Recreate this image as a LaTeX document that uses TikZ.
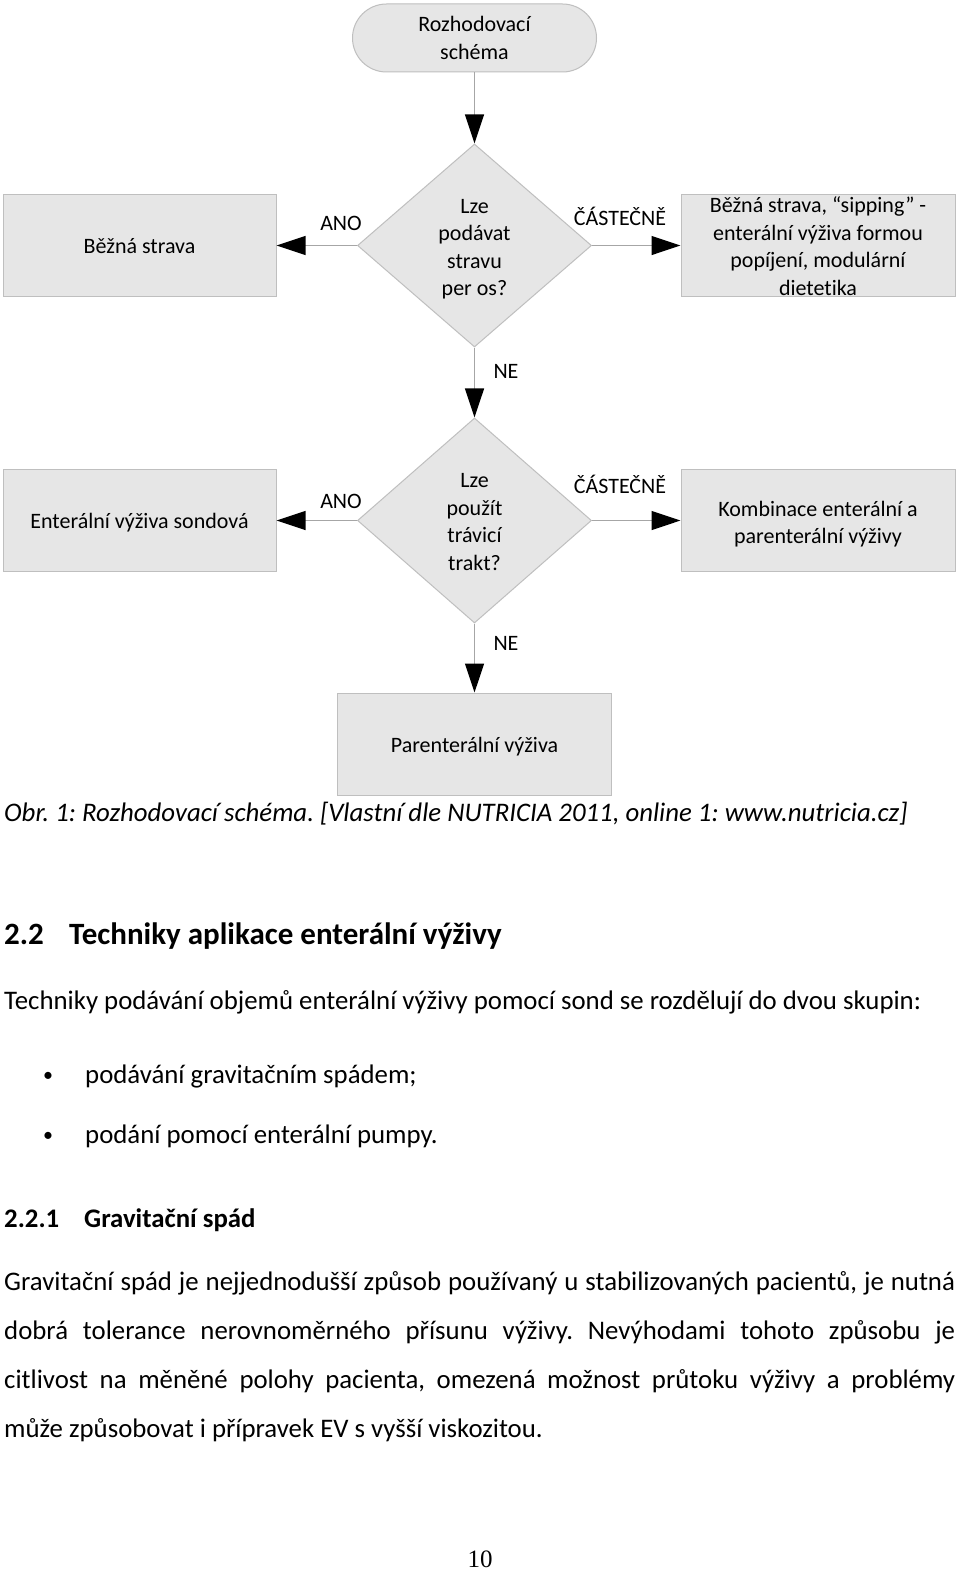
\documentclass[tikz,border=0pt]{standalone}
\usepackage{fontspec}
\setmainfont{Carlito}[Ligatures={NoCommon}]
\newfontfamily\pnfont{Liberation Serif}
\usetikzlibrary{shapes.geometric,arrows.meta}
\definecolor{boxfill}{HTML}{E6E6E6}
\definecolor{boxline}{HTML}{BFBFBF}
\definecolor{connline}{HTML}{A6A6A6}
\begin{document}
\frenchspacing
\begin{tikzpicture}[x=1pt,y=-1pt,
  dfont/.style={font=\fontsize{22}{27.5}\selectfont},
  box/.style={draw=boxline, fill=boxfill, line width=1pt, minimum width=273pt, minimum height=102pt, inner sep=0pt},
  term/.style={box, dfont, align=center, rounded corners=34pt, minimum width=244pt, minimum height=68pt},
  dec/.style={diamond, draw=boxline, fill=boxfill, line width=1pt, minimum width=234pt, minimum height=203pt, inner sep=0pt},
  dtext/.style={dfont, align=center, inner sep=0pt, yshift=-3.5pt},
  lbl/.style={dfont, inner sep=0pt, anchor=base},
  conn/.style={draw=connline, line width=1.2pt, -{Triangle[length=29pt,width=19pt,color=black]}},
  txt/.style={font=\fontsize{26.8}{32}\selectfont, inner sep=0pt, anchor=base west},
  btxt/.style={txt, font=\bfseries\fontsize{26.8}{32}\selectfont},
  htxt/.style={txt, font=\bfseries\fontsize{31}{36}\selectfont},
  jline/.style={txt}]
\useasboundingbox (0,0) rectangle (960,1571);
\fill[white] (0,0) rectangle (960,1571);

% flowchart
\node[term] (start) at (474.5,38) {Rozhodovací\\schéma};
\node[dec] (d1) at (474.5,245.5) {};
\node[dtext] (d1t) at (d1.center) {Lze\\podávat\\stravu\\per os?};
\node[box] (bl1) at (139.5,245.5) {};
\node[dtext, yshift=2.5pt] (bl1t) at (bl1.center) {Běžná strava};
\node[box, minimum width=274pt] (br1) at (818,245.5) {};
\node[dtext, yshift=3pt] (br1t) at (br1.center) {Běžná strava, “sipping” -\\enterální výživa formou\\popíjení, modulární\\dietetika};

\node[dec, minimum height=205pt] (d2) at (474.5,520.5) {};
\node[dtext, yshift=2pt] (d2t) at (d2.center) {Lze\\použít\\trávicí\\trakt?};
\node[box] (bl2) at (139.5,520.5) {};
\node[dtext, yshift=1.5pt] (bl2t) at (bl2.center) {Enterální výživa sondová};
\node[box, minimum width=274pt] (br2) at (818,520.5) {};
\node[dtext] (br2t) at (br2.center) {Kombinace enterální a\\parenterální výživy};

\node[box, minimum width=274pt] (bot) at (474.5,744) {};
\node[dtext, yshift=1pt] (bott) at (bot.center) {Parenterální výživa};

\draw[conn] (start) -- (d1);
\draw[conn] (d1) -- (bl1);
\draw[conn] (d1) -- (br1);
\draw[conn] (d1) -- (d2);
\draw[conn] (d2) -- (bl2);
\draw[conn] (d2) -- (br2);
\draw[conn] (d2) -- (bot);

\node[lbl] (ano1) at (341,230) {ANO};
\node[lbl] (cas1) at (620,225) {ČÁSTEČNĚ};
\node[lbl] (ne1) at (506,378) {NE};
\node[lbl] (ano2) at (341,508) {ANO};
\node[lbl] (cas2) at (620,493) {ČÁSTEČNĚ};
\node[lbl] (ne2) at (506,650) {NE};

% text below
\node[txt] (cap) at (4,821.5) {\itshape Obr. 1: Rozhodovací schéma. [Vlastní dle NUTRICIA 2011, online 1: www.nutricia.cz]};
\node[htxt] (h1n) at (4,944) {2.2};
\node[htxt] (h1) at (69,944) {Techniky aplikace enterální výživy};
\node[txt] (intro) at (4,1009) {Techniky podávání objemů enterální výživy pomocí sond se rozdělují do dvou skupin:};
\node[txt, anchor=base, font=\fontsize{20}{24}\selectfont] (bul1) at (48,1081) {•};
\node[txt] (it1) at (85,1083) {podávání gravitačním spádem;};
\node[txt, anchor=base, font=\fontsize{20}{24}\selectfont] (bul2) at (48,1141) {•};
\node[txt] (it2) at (85,1143) {podání pomocí enterální pumpy.};
\node[btxt] (h2n) at (4,1227) {2.2.1};
\node[btxt] (h2) at (84,1227) {Gravitační spád};
\node[jline] (p1) at (4,1290) {\hbox to 951pt{\spaceskip=0.226em plus 2em minus 0.1em Gravitační spád je nejjednodušší způsob používaný u stabilizovaných pacientů, je nutná}};
\node[jline] (p2) at (4,1339) {\hbox to 951pt{\spaceskip=0.226em plus 2em minus 0.1em dobrá tolerance nerovnoměrného přísunu výživy. Nevýhodami tohoto způsobu je}};
\node[jline] (p3) at (4,1388) {\hbox to 951pt{\spaceskip=0.226em plus 2em minus 0.1em citlivost na měněné polohy pacienta, omezená možnost průtoku výživy a problémy}};
\node[jline] (p4) at (4,1437) {může způsobovat i přípravek EV s vyšší viskozitou.};
\node[font=\pnfont\fontsize{25}{30}\selectfont, inner sep=0pt, anchor=base] (pg) at (480,1567) {10};
\end{tikzpicture}
\end{document}
